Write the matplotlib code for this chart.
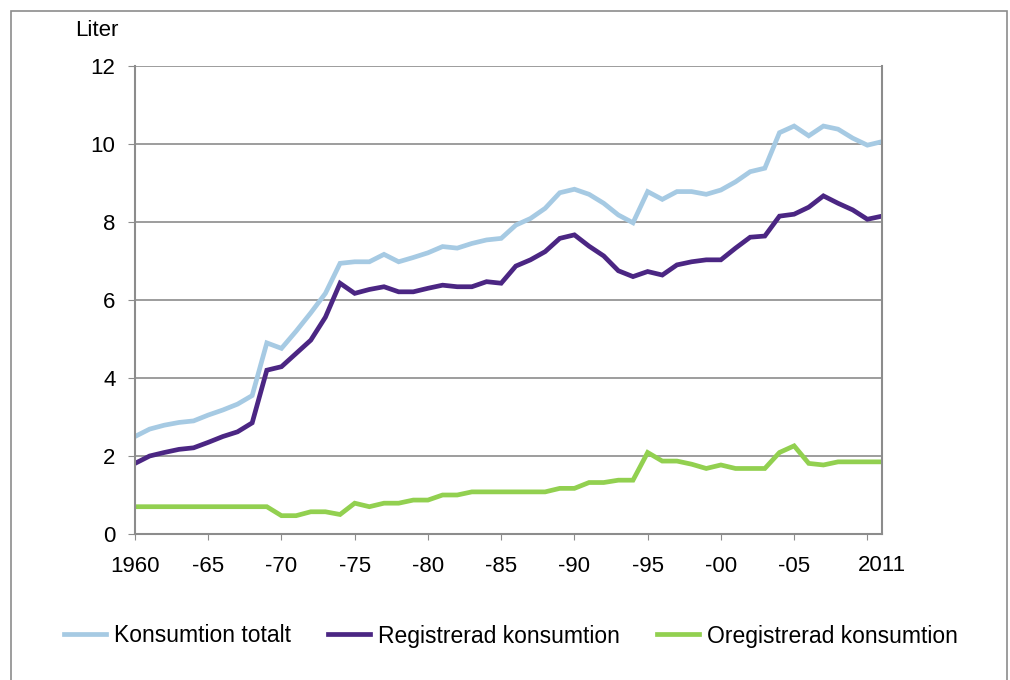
import matplotlib
matplotlib.use("Agg")
import matplotlib.pyplot as plt
from matplotlib.patches import Rectangle

plt.rcParams['font.family'] = ['Liberation Sans', 'DejaVu Sans']

years = list(range(1960, 2012))

# Konsumtion totalt (liter per person)
totalt = [2.50, 2.69, 2.79, 2.86, 2.90, 3.05, 3.18, 3.33, 3.55, 4.90,
          4.76, 5.20, 5.67, 6.17, 6.94, 6.98, 6.98, 7.17, 6.98, 7.09,
          7.21, 7.37, 7.33, 7.45, 7.54, 7.58, 7.92, 8.09, 8.35, 8.75,
          8.84, 8.71, 8.48, 8.18, 7.98, 8.78, 8.58, 8.78, 8.78, 8.71,
          8.82, 9.03, 9.29, 9.38, 10.29, 10.46, 10.21, 10.46, 10.38, 10.15,
          9.97, 10.06]

registrerad = [1.81, 2.00, 2.09, 2.17, 2.21, 2.35, 2.50, 2.62, 2.85, 4.20,
               4.29, 4.63, 4.97, 5.56, 6.43, 6.17, 6.27, 6.34, 6.21, 6.21,
               6.30, 6.38, 6.34, 6.34, 6.47, 6.43, 6.87, 7.03, 7.24, 7.58,
               7.67, 7.38, 7.13, 6.75, 6.60, 6.73, 6.64, 6.90, 6.98, 7.03,
               7.03, 7.33, 7.61, 7.64, 8.15, 8.20, 8.38, 8.67, 8.48, 8.31,
               8.07, 8.15]

oregistrerad = [0.70, 0.70, 0.70, 0.70, 0.70, 0.70, 0.70, 0.70, 0.70, 0.70,
                0.47, 0.47, 0.57, 0.57, 0.50, 0.79, 0.70, 0.79, 0.79, 0.87,
                0.87, 1.00, 1.00, 1.08, 1.08, 1.08, 1.08, 1.08, 1.08, 1.17,
                1.17, 1.32, 1.32, 1.38, 1.38, 2.09, 1.87, 1.87, 1.79, 1.68,
                1.77, 1.68, 1.68, 1.68, 2.09, 2.26, 1.81, 1.77, 1.85, 1.85,
                1.85, 1.85]

series_names = ["Konsumtion totalt", "Registrerad konsumtion", "Oregistrerad konsumtion"]
series_colors = ["#A6CAE3", "#4B2683", "#92D050"]

xtick_pos = list(range(1960, 2010, 5))
xtick_labels = ["1960", "-65", "-70", "-75", "-80", "-85", "-90", "-95", "-00", "-05"]

fs = 16

fig = plt.figure(figsize=(10.1, 6.8), dpi=100)
# outer frame
fig.patches.append(Rectangle((11 / 1010, -0.01), 996 / 1010, 1 - 11 / 680 + 0.01,
                             transform=fig.transFigure, fill=False,
                             edgecolor="#8c8c8c", linewidth=1.2))

ax = fig.add_axes([135 / 1010, 1 - 534 / 680, 747 / 1010, 468 / 680])

for vals, name, col in zip([totalt, registrerad, oregistrerad], series_names, series_colors):
    ax.plot(years, vals, color=col, linewidth=3.4, label=name, solid_joinstyle="miter")

ax.set_xlim(1960, 2011)
ax.set_ylim(0, 12)
ax.set_yticks(range(0, 13, 2))
ax.yaxis.grid(True, color="#8c8c8c", linewidth=1.2)
ax.set_axisbelow(True)

ax.set_xticks(xtick_pos + [2010])
ax.set_xticklabels(xtick_labels + [""])
ax.set_xticks([2011], minor=True)
ax.set_xticklabels(["2011"], minor=True)
ax.tick_params(axis="x", which="major", length=4, color="#8c8c8c", labelsize=fs, pad=12)
ax.tick_params(axis="x", which="minor", length=0, labelsize=fs, pad=15)
ax.tick_params(axis="y", length=5, color="#8c8c8c", labelsize=fs, pad=9)

for side in ["left", "right", "bottom"]:
    ax.spines[side].set_color("#8c8c8c")
    ax.spines[side].set_linewidth(1.5)
ax.spines["top"].set_visible(False)

fig.text(97 / 1010, 1 - 31 / 680, "Liter", fontsize=fs, ha="center", va="center")

fig.legend(loc="center", bbox_to_anchor=(511 / 1010, 1 - 636 / 680), ncol=3, frameon=False,
           fontsize=16.5, handlelength=1.85, handletextpad=0.35, columnspacing=1.6)

fig.savefig("out.png", dpi=100)
